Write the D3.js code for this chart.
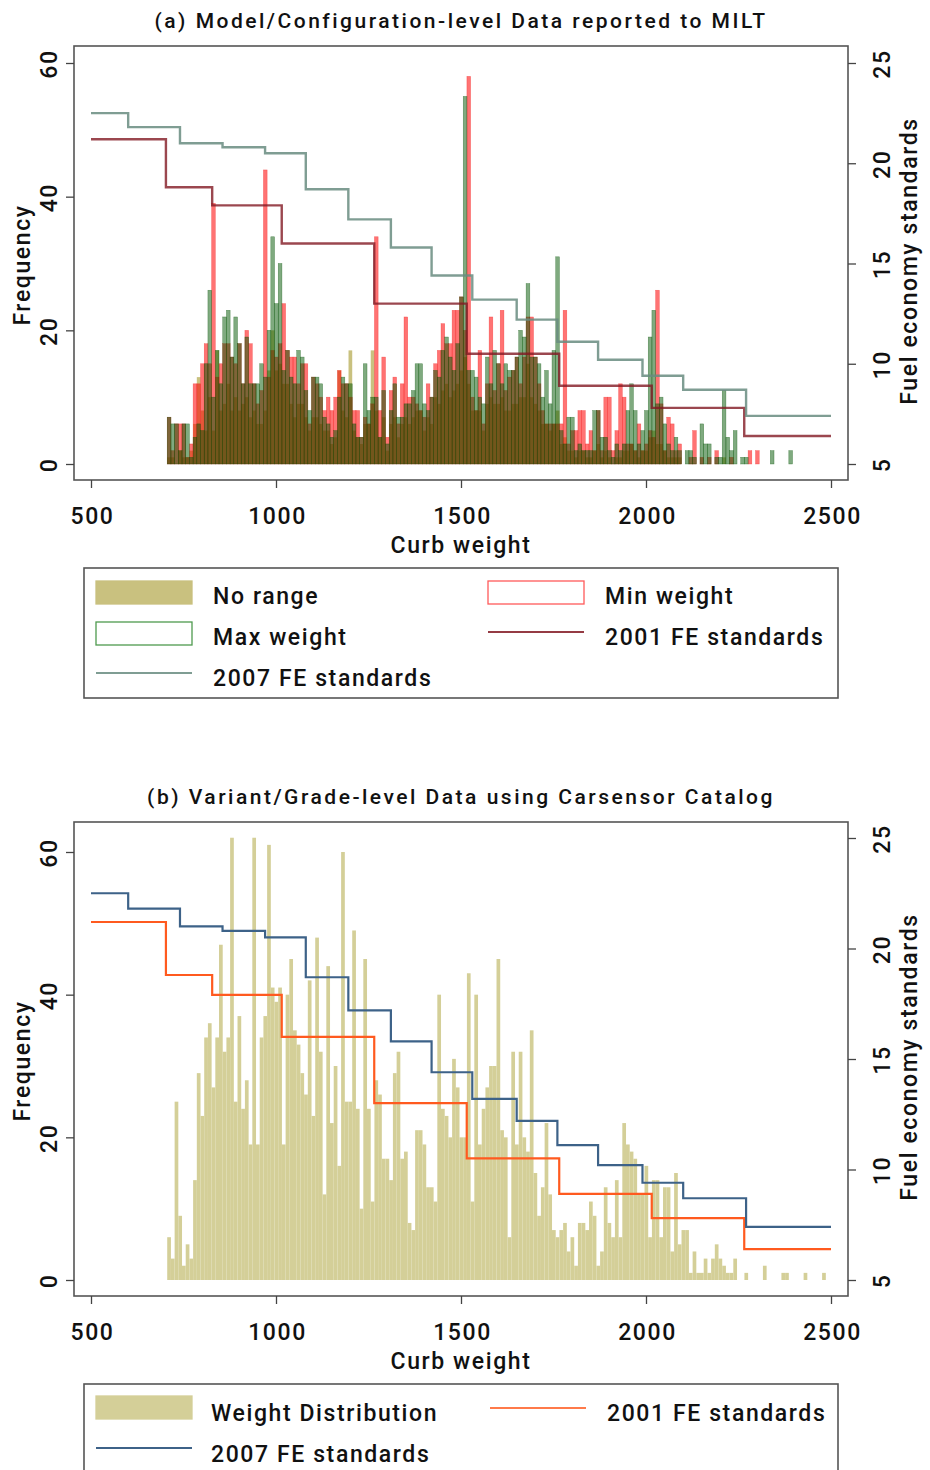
<!DOCTYPE html>
<html>
<head>
<meta charset="utf-8">
<script src="https://cdn.jsdelivr.net/npm/d3@7"></script>
<style>
  body { margin: 0; background: #fff; }
  text { font-family: Roboto, "Noto Sans", sans-serif; fill: #111; font-weight: 500; }
  .lbl { font-size: 23px; letter-spacing: 1.6px; }
  .ttl { font-size: 21px; letter-spacing: 2.5px; }
</style>
</head>
<body>
<svg id="chart" width="930" height="1470"></svg>
<script>
// ---- Histogram bins: 10 kg wide, first bin starts at 706 kg ----
const binStart = 706;
const binWidth = 10;

// (a) Model/configuration-level counts per bin
const minWeight = [7,2,6,6,6,1,3,12,12,15,18,15,39,13,15,18,18,16,15,18,12,20,18,12,9,11,44,13,17,16,18,24,17,16,16,12,15,15,6,13,12,10,8,10,8,10,14,12,12,10,8,8,4,7,6,9,34,8,16,4,11,13,6,12,22,10,10,9,8,7,12,10,15,17,21,18,18,23,23,25,20,58,10,8,17,6,12,22,11,15,23,11,13,14,16,12,16,22,22,16,12,8,6,6,6,6,6,23,3,5,5,8,8,3,5,2,8,2,10,10,2,5,12,10,3,3,2,6,2,3,5,4,26,9,2,7,6,2,3,0,0,1,5,0,1,0,1,0,2,0,0,0,1,0,0,0,0,2,0,2,0,0,0,0,0,0,0,0,0];
const maxWeight = [7,6,6,2,6,6,1,4,6,5,15,26,10,17,12,22,23,16,22,18,12,19,12,12,12,15,13,20,34,24,30,14,17,13,12,17,16,11,8,13,13,12,7,6,4,5,10,13,12,12,6,4,4,15,8,10,10,4,11,3,8,12,7,7,9,9,11,15,15,9,8,10,14,13,17,19,16,14,18,25,55,14,14,13,10,9,16,12,17,15,12,15,14,14,16,20,19,27,16,16,15,10,14,9,17,31,5,3,7,7,2,3,2,2,2,8,8,4,4,2,1,3,2,3,8,12,8,3,5,8,19,23,9,10,6,3,2,4,2,0,2,2,1,0,6,3,3,0,1,1,11,4,2,5,0,1,1,0,0,0,0,0,0,2,0,0,0,0,2];
const noRange = [1,1,0,2,1,1,2,6,13,8,5,10,5,17,8,9,12,8,10,8,9,10,7,8,6,6,8,14,20,14,15,12,12,9,7,9,9,7,5,7,7,6,5,5,3,4,14,8,7,17,5,4,3,6,6,17,8,4,7,2,6,7,4,6,7,6,7,8,8,5,7,6,10,9,11,12,10,11,12,14,16,12,8,8,8,5,9,10,9,9,10,8,8,9,9,10,10,15,10,9,8,6,6,5,6,8,3,4,2,2,1,2,2,1,1,2,3,1,2,1,0,1,1,2,2,3,2,1,2,2,4,5,3,3,2,1,1,1,1,0,0,0,0,0,0,0,0,0,0,0,1,0,0,0,0,0,0,0,0,0,0,0,0,0,0,0,0,0,0];

// (b) Variant/grade-level counts per bin
const weightDistribution = [
  6,3,25,9,2,5,3,14,29,23,34,36,27,34,47,32,34,62,25,37,24,28,19,62,19,34,37,61,41,39,
  41,19,40,45,35,33,29,26,42,23,48,32,12,44,22,30,16,60,25,25,49,24,10,45,24,
  11,28,26,17,17,14,29,32,17,18,8,7,21,21,19,13,13,11,40,24,23,20,31,27,20,20,43,11,40,19,
  24,27,30,30,45,21,20,6,32,19,32,20,18,35,15,9,13,22,12,7,6,
  7,8,4,6,2,8,8,7,11,9,2,4,13,8,6,14,6,22,19,18,17,12,12,16,6,14,14,6,13,13,
  4,15,5,7,7,1,4,1,1,3,1,3,5,3,2,1,1,3,
  0,0,1,0,0,0,0,2,0,0,0,0,1,1,0,0,0,0,1,0,0,0,0,1
];

// ---- Fuel economy standards (km/L) by curb-weight class ----
const fe2001Weights = [500, 702.5, 827.5, 1015.5, 1265.5, 1515.5, 1765.5, 2015.5, 2265.5, 2500];
const fe2001Values  = [21.2, 18.8, 17.9, 16.0, 13.0, 10.5, 8.9, 7.8, 6.4, 6.4];
const fe2007Weights = [500, 600.5, 740.5, 855.5, 970.5, 1080.5, 1195.5, 1310.5, 1420.5, 1530.5, 1650.5, 1760.5, 1870.5, 1990.5, 2100.5, 2270.5, 2500];
const fe2007Values  = [22.5, 21.8, 21.0, 20.8, 20.5, 18.7, 17.2, 15.8, 14.4, 13.2, 12.2, 11.1, 10.2, 9.4, 8.7, 7.4, 7.4];

// ---- Axis ticks ----
const weightTicks = [500, 1000, 1500, 2000, 2500];
const freqTicks = [0, 20, 40, 60];
const feTicks = [5, 10, 15, 20, 25];

const svg = d3.select("#chart");
const x = d3.scaleLinear().domain([500, 2500]).range([91, 831]);

const toBins = counts => counts.map((c, i) => ({ x0: binStart + i * binWidth, x1: binStart + (i + 1) * binWidth, n: c }))
                               .filter(d => d.n > 0);
const toSteps = (ws, vs) => ws.map((w, i) => [w, vs[i]]);

function drawBars(g, counts, y, style) {
  g.append("g").selectAll("rect").data(toBins(counts)).join("rect")
    .attr("x", d => x(d.x0))
    .attr("width", d => x(d.x1) - x(d.x0))
    .attr("y", d => y(d.n))
    .attr("height", d => y(0) - y(d.n))
    .attr("fill", style.fill)
    .attr("stroke", style.stroke || "none")
    .attr("stroke-width", style.strokeWidth || 0);
}

function drawStep(g, ws, vs, y, color, width) {
  const line = d3.line().x(d => x(d[0])).y(d => y(d[1])).curve(d3.curveStepAfter);
  g.append("path").datum(toSteps(ws, vs))
    .attr("d", line).attr("fill", "none")
    .attr("stroke", color).attr("stroke-width", width);
}

function drawFrameAndAxes(g, f, yFreq, yFe) {
  g.append("rect").attr("x", f.x0).attr("y", f.y0)
    .attr("width", f.x1 - f.x0).attr("height", f.y1 - f.y0)
    .attr("fill", "none").attr("stroke", "#555").attr("stroke-width", 1.6);

  // bottom axis
  const xa = g.append("g").attr("transform", `translate(0,${f.y1})`)
    .call(d3.axisBottom(x).tickValues(weightTicks).tickSize(8).tickFormat(d3.format("d")));
  xa.select(".domain").remove();
  xa.selectAll(".tick line").attr("stroke", "#444").attr("stroke-width", 1.3);
  xa.selectAll(".tick text").attr("class", "lbl").attr("y", 44).attr("dy", 0).attr("dx", 1);
  xa.attr("font-family", null).attr("font-size", null);

  // left axis (frequency)
  const la = g.append("g").attr("transform", `translate(${f.x0},0)`)
    .call(d3.axisLeft(yFreq).tickValues(freqTicks).tickSize(8).tickFormat(""));
  la.select(".domain").remove();
  la.selectAll(".tick line").attr("stroke", "#444").attr("stroke-width", 1.3);
  g.append("g").selectAll("text").data(freqTicks).join("text")
    .attr("class", "lbl").attr("text-anchor", "middle")
    .attr("transform", d => `translate(57,${yFreq(d) + 1}) rotate(-90)`)
    .text(d => d);

  // right axis (fuel economy)
  const ra = g.append("g").attr("transform", `translate(${f.x1},0)`)
    .call(d3.axisRight(yFe).tickValues(feTicks).tickSize(8).tickFormat(""));
  ra.select(".domain").remove();
  ra.selectAll(".tick line").attr("stroke", "#444").attr("stroke-width", 1.3);
  g.append("g").selectAll("text").data(feTicks).join("text")
    .attr("class", "lbl").attr("text-anchor", "middle")
    .attr("transform", d => `translate(890,${yFe(d) + 1}) rotate(-90)`)
    .text(d => d);

  // axis titles
  const yMid = (f.y0 + f.y1) / 2;
  g.append("text").attr("class", "lbl").attr("text-anchor", "middle")
    .attr("transform", `translate(30,${yMid + 2}) rotate(-90)`).text("Frequency");
  g.append("text").attr("class", "lbl").attr("text-anchor", "middle")
    .attr("transform", `translate(917,${yMid - 2}) rotate(-90)`).text("Fuel economy standards");
  g.append("text").attr("class", "lbl").attr("text-anchor", "middle")
    .attr("x", 461).attr("y", f.y1 + 73).text("Curb weight");
}

function legendRect(g, x0, y0, fill, stroke) {
  g.append("rect").attr("x", x0).attr("y", y0).attr("width", 96).attr("height", 23)
    .attr("fill", fill).attr("stroke", stroke).attr("stroke-width", 1.3);
}
function legendLine(g, x0, yy, color) {
  g.append("line").attr("x1", x0).attr("x2", x0 + 96).attr("y1", yy).attr("y2", yy)
    .attr("stroke", color).attr("stroke-width", 2);
}
function legendText(g, x0, yy, s) {
  g.append("text").attr("class", "lbl").attr("x", x0).attr("y", yy).text(s);
}

// ===================== Panel (a) =====================
{
  const g = svg.append("g");
  const f = { x0: 74, x1: 848, y0: 46, y1: 480 };
  const yFreq = d3.scaleLinear().domain([0, 60]).range([464, 63]);
  const yFe = d3.scaleLinear().domain([5, 25]).range([464, 63]);

  g.append("text").attr("class", "ttl").attr("text-anchor", "middle")
    .attr("x", 461).attr("y", 28).text("(a) Model/Configuration-level Data reported to MILT");

  drawBars(g, noRange, yFreq, { fill: "#c9c17f" });
  drawBars(g, minWeight, yFreq, { fill: "rgba(255,0,0,0.55)", stroke: "rgba(240,30,30,0.55)", strokeWidth: 0.5 });
  drawBars(g, maxWeight, yFreq, { fill: "rgba(0,85,0,0.5)", stroke: "rgba(0,80,0,0.55)", strokeWidth: 0.5 });

  drawStep(g, fe2001Weights, fe2001Values, yFe, "rgba(130,25,35,0.8)", 2.4);
  drawStep(g, fe2007Weights, fe2007Values, yFe, "rgba(105,140,128,0.85)", 2.4);

  drawFrameAndAxes(g, f, yFreq, yFe);

  // legend
  const lg = g.append("g");
  lg.append("rect").attr("x", 84).attr("y", 568).attr("width", 754).attr("height", 130)
    .attr("fill", "#fff").attr("stroke", "#555").attr("stroke-width", 1.6);
  legendRect(lg, 96, 581, "#c9c17f", "#c9c17f");
  legendText(lg, 213, 604, "No range");
  legendRect(lg, 488, 581, "#fff", "#ff5a5a");
  legendText(lg, 605, 604, "Min weight");
  legendRect(lg, 96, 622, "#fff", "#4f9a4f");
  legendText(lg, 213, 645, "Max weight");
  legendLine(lg, 488, 632, "rgba(130,25,35,0.85)");
  legendText(lg, 605, 645, "2001 FE standards");
  legendLine(lg, 96, 673, "rgba(105,140,128,0.85)");
  legendText(lg, 213, 686, "2007 FE standards");
}

// ===================== Panel (b) =====================
{
  const g = svg.append("g");
  const f = { x0: 74, x1: 848, y0: 822, y1: 1296 };
  const yFreq = d3.scaleLinear().domain([0, 60]).range([1280, 852]);
  const yFe = d3.scaleLinear().domain([5, 25]).range([1280, 838]);

  g.append("text").attr("class", "ttl").attr("text-anchor", "middle")
    .attr("x", 461).attr("y", 804).text("(b) Variant/Grade-level Data using Carsensor Catalog");

  drawBars(g, weightDistribution, yFreq, { fill: "#d4cf98" });

  drawStep(g, fe2001Weights, fe2001Values, yFe, "#ff5a1f", 2.2);
  drawStep(g, fe2007Weights, fe2007Values, yFe, "#3d6288", 2.2);

  drawFrameAndAxes(g, f, yFreq, yFe);

  const lg = g.append("g");
  lg.append("rect").attr("x", 84).attr("y", 1384).attr("width", 754).attr("height", 110)
    .attr("fill", "#fff").attr("stroke", "#555").attr("stroke-width", 1.6);
  legendRect(lg, 96, 1396, "#d4cf98", "#d4cf98");
  legendText(lg, 211, 1421, "Weight Distribution");
  legendLine(lg, 490, 1408, "#ff7a4a");
  legendText(lg, 607, 1421, "2001 FE standards");
  legendLine(lg, 96, 1448, "#3d6288");
  legendText(lg, 211, 1462, "2007 FE standards");
}
</script>
</body>
</html>
